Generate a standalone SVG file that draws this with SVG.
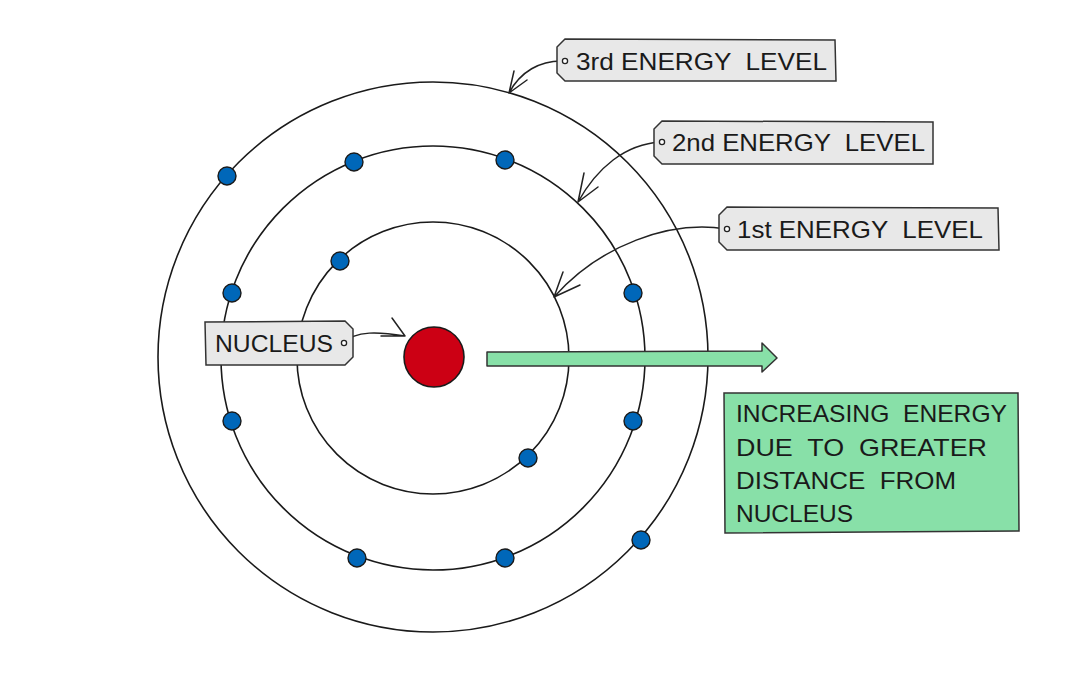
<svg xmlns="http://www.w3.org/2000/svg" width="1068" height="690" viewBox="0 0 1068 690">
<style>
.orbit{fill:none;stroke:#1a1a1a;stroke-width:1.6}
.e{fill:#0067b9;stroke:#1a1a1a;stroke-width:1.4}
.tag{fill:#e8e8e8;stroke:#333;stroke-width:1.5}
.lbl{font-family:"Liberation Sans",Arial,sans-serif;font-size:24px;fill:#1a1a1a;white-space:pre}
.con{fill:none;stroke:#222;stroke-width:1.5;stroke-linecap:round}
.dot{fill:#fff;stroke:#222;stroke-width:1.3}
</style>
<rect width="1068" height="690" fill="#fff"/>
<g id="orbits">
<circle class="orbit" cx="433" cy="357" r="275"/>
<circle class="orbit" cx="433" cy="358" r="212"/>
<circle class="orbit" cx="433" cy="358" r="136"/>
</g>
<g id="nucleus"><circle cx="434" cy="357" r="30" fill="#cc0014" stroke="#1a1a1a" stroke-width="1.6"/></g>
<g id="electrons">
<circle class="e" cx="227" cy="176" r="9"/>
<circle class="e" cx="641" cy="540" r="9"/>
<circle class="e" cx="354" cy="162" r="9"/>
<circle class="e" cx="505" cy="160" r="9"/>
<circle class="e" cx="232" cy="293" r="9"/>
<circle class="e" cx="633" cy="293" r="9"/>
<circle class="e" cx="232" cy="421" r="9"/>
<circle class="e" cx="633" cy="421" r="9"/>
<circle class="e" cx="357" cy="558" r="9"/>
<circle class="e" cx="505" cy="558" r="9"/>
<circle class="e" cx="340" cy="261" r="9"/>
<circle class="e" cx="528" cy="458" r="9"/>
</g>
<g id="connectors">
<path class="con" d="M564,61 C540,60 520,72 509,93 M509,93 L514,71 M509,93 L527,80"/>
<path class="con" d="M661,142 C625,144 597,168 578,202 M578,202 L584,173 M578,202 L598,187"/>
<path class="con" d="M726,229 C670,220 600,245 554,297 M554,297 L563,272 M554,297 L580,285"/>
<path class="con" d="M344,343 C355,330 380,332 405,336 M405,336 L392,318 M405,336 L381,336"/>
</g>
<g id="arrow">
<path d="M487,352 L762,351 L762,343 L777,358 L762,372 L762,366 L487,366 Z" fill="#88e0a8" stroke="#333" stroke-width="1.5" stroke-linejoin="round"/>
</g>
<g id="label-3rd">
<path class="tag" d="M565,39 L835,40 L836,81 L565,81 L557,73 L557,47 Z"/>
<circle class="dot" cx="565" cy="61" r="2.6"/>
<text class="lbl" x="576" y="70" textLength="251" lengthAdjust="spacingAndGlyphs">3rd ENERGY  LEVEL</text>
</g>
<g id="label-2nd">
<path class="tag" d="M662,121 L933,122 L933,164 L662,164 L654,156 L654,129 Z"/>
<circle class="dot" cx="662" cy="142" r="2.6"/>
<text class="lbl" x="672" y="151" textLength="253" lengthAdjust="spacingAndGlyphs">2nd ENERGY  LEVEL</text>
</g>
<g id="label-1st">
<path class="tag" d="M727,207 L998,208 L999,250 L727,250 L719,242 L719,215 Z"/>
<circle class="dot" cx="727" cy="229" r="2.6"/>
<text class="lbl" x="737" y="238" textLength="246" lengthAdjust="spacingAndGlyphs">1st ENERGY  LEVEL</text>
</g>
<g id="label-nucleus">
<path class="tag" d="M205,322 L345,321 L353,329 L353,357 L345,365 L206,365 Z"/>
<circle class="dot" cx="344" cy="343" r="2.6"/>
<text class="lbl" x="215" y="352" textLength="118" lengthAdjust="spacingAndGlyphs">NUCLEUS</text>
</g>
<g id="energy-box">
<path d="M724,393 L1018,393 L1019,531 L725,533 Z" fill="#88e0a8" stroke="#333" stroke-width="1.5"/>
<text class="lbl" x="736" y="422" textLength="271" lengthAdjust="spacingAndGlyphs">INCREASING  ENERGY</text>
<text class="lbl" x="736" y="456" textLength="251" lengthAdjust="spacingAndGlyphs">DUE  TO  GREATER</text>
<text class="lbl" x="736" y="489" textLength="220" lengthAdjust="spacingAndGlyphs">DISTANCE  FROM</text>
<text class="lbl" x="736" y="522" textLength="117" lengthAdjust="spacingAndGlyphs">NUCLEUS</text>
</g>
</svg>
